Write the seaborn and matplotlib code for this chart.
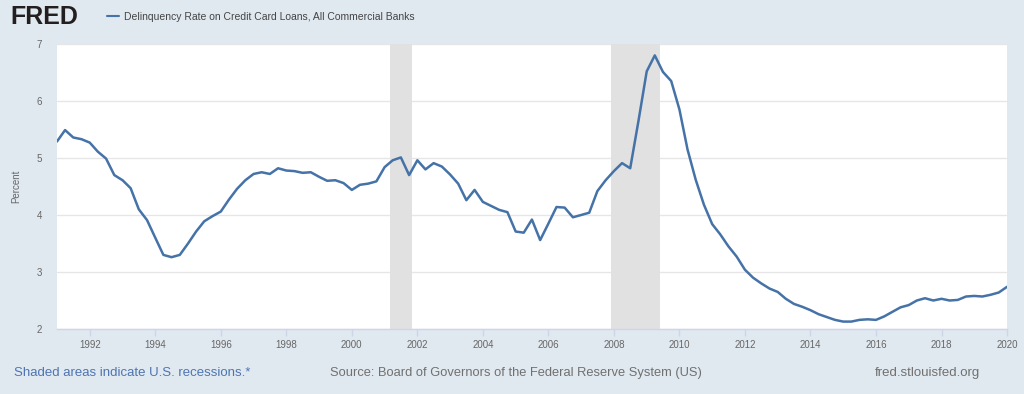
import pandas as pd
import matplotlib
matplotlib.use('Agg')
import matplotlib.pyplot as plt
import seaborn as sns

# quarterly delinquency rate, 1991Q1 - 2020Q1 (percent)
rate = [5.29, 5.49, 5.36, 5.33, 5.27, 5.11, 4.99, 4.70, 4.61, 4.47, 4.10, 3.91, 3.60, 3.30, 3.26, 3.30, 3.50,
        3.71, 3.89, 3.98, 4.06, 4.27, 4.46, 4.61, 4.72, 4.75, 4.72, 4.82, 4.78, 4.77, 4.74, 4.75, 4.67, 4.60,
        4.61, 4.56, 4.44, 4.53, 4.55, 4.59, 4.84, 4.96, 5.01, 4.70, 4.96, 4.80, 4.91, 4.85, 4.71, 4.55,
        4.26, 4.44, 4.23, 4.16, 4.09, 4.05, 3.71, 3.69, 3.92, 3.56, 3.85, 4.14, 4.13, 3.96, 4.00, 4.04,
        4.42, 4.61, 4.77, 4.91, 4.82, 5.65, 6.52, 6.80, 6.51, 6.35, 5.85, 5.15, 4.62, 4.18, 3.84, 3.66, 3.45,
        3.27, 3.04, 2.90, 2.80, 2.71, 2.65, 2.53, 2.44, 2.39, 2.33, 2.26, 2.21, 2.16, 2.13, 2.13, 2.16,
        2.17, 2.16, 2.22, 2.30, 2.38, 2.42, 2.50, 2.54, 2.50, 2.53, 2.50, 2.51, 2.57, 2.58, 2.57, 2.60, 2.64, 2.74]
dates = pd.date_range('1991-01-01', periods=len(rate), freq='QS')

recession_start = ['2001-03-01', '2007-12-01']
recession_end = ['2001-11-01', '2009-06-01']
year_ticks = list(range(1992, 2021, 2))
y_ticks = [2, 3, 4, 5, 6, 7]

series_name = 'Delinquency Rate on Credit Card Loans, All Commercial Banks'

sns.set_style('white')
plt.rcParams['font.family'] = ['Liberation Sans', 'DejaVu Sans']

bg = '#e1e9f0'
fig = plt.figure(figsize=(10.24, 3.94), dpi=100, facecolor=bg)
ax = fig.add_axes([57 / 1024, 65 / 394, 950 / 1024, 285 / 394])
ax.set_facecolor('white')

df = pd.DataFrame({'date': dates, 'rate': rate})
sns.lineplot(data=df, x='date', y='rate', ax=ax, color='#4572a7', linewidth=1.8,
             label=series_name, zorder=3)

for s, e in zip(recession_start, recession_end):
    ax.axvspan(pd.Timestamp(s), pd.Timestamp(e), color='#e1e1e1', lw=0, zorder=1)

ax.set_xlim(dates[0], dates[-1])
ax.set_ylim(2, 7)
ax.set_yticks(y_ticks)
ax.set_xticks([pd.Timestamp(f'{y}-01-01') for y in year_ticks])
ax.set_xticklabels([str(y) for y in year_ticks])
ax.yaxis.grid(True, color='#e6e6e6', lw=1, zorder=0)
ax.set_axisbelow(True)

for side in ['top', 'right', 'left']:
    ax.spines[side].set_visible(False)
ax.spines['bottom'].set_color('#ccd6eb')
ax.spines['bottom'].set_linewidth(1)

ax.tick_params(axis='x', length=5, width=1, color='#ccd6eb', labelsize=7,
               labelcolor='#666666', pad=3, bottom=True)
ax.tick_params(axis='y', length=0, labelsize=7, labelcolor='#666666', pad=11)

ax.set_xlabel('')
ax.set_ylabel('Percent', fontsize=7, color='#666666')
ax.yaxis.set_label_coords(-36 / 950, 0.5)

# header: logo text and series legend
fig.text(10 / 1024, 1 - 17 / 394, 'FRED', fontsize=18, fontweight='bold',
         color='#231f20', va='center', ha='left')
leg = ax.legend(loc='center left', bbox_to_anchor=(98 / 1024, 1 - 17 / 394),
                bbox_transform=fig.transFigure, frameon=False, fontsize=7.5,
                handlelength=1.15, handletextpad=0.45, labelcolor='#444444')
for h in leg.get_lines():
    h.set_linewidth(1.5)

# footer
fy = 1 - 373 / 394
fig.text(14 / 1024, fy, 'Shaded areas indicate U.S. recessions.*', fontsize=9.5,
         color='#4d74b2', va='center', ha='left')
fig.text(330 / 1024, fy, 'Source: Board of Governors of the Federal Reserve System (US)',
         fontsize=9.3, color='#707070', va='center', ha='left')
fig.text(980 / 1024, fy, 'fred.stlouisfed.org', fontsize=9.5, color='#707070',
         va='center', ha='right')

fig.savefig('out.png', dpi=100, facecolor=bg)
